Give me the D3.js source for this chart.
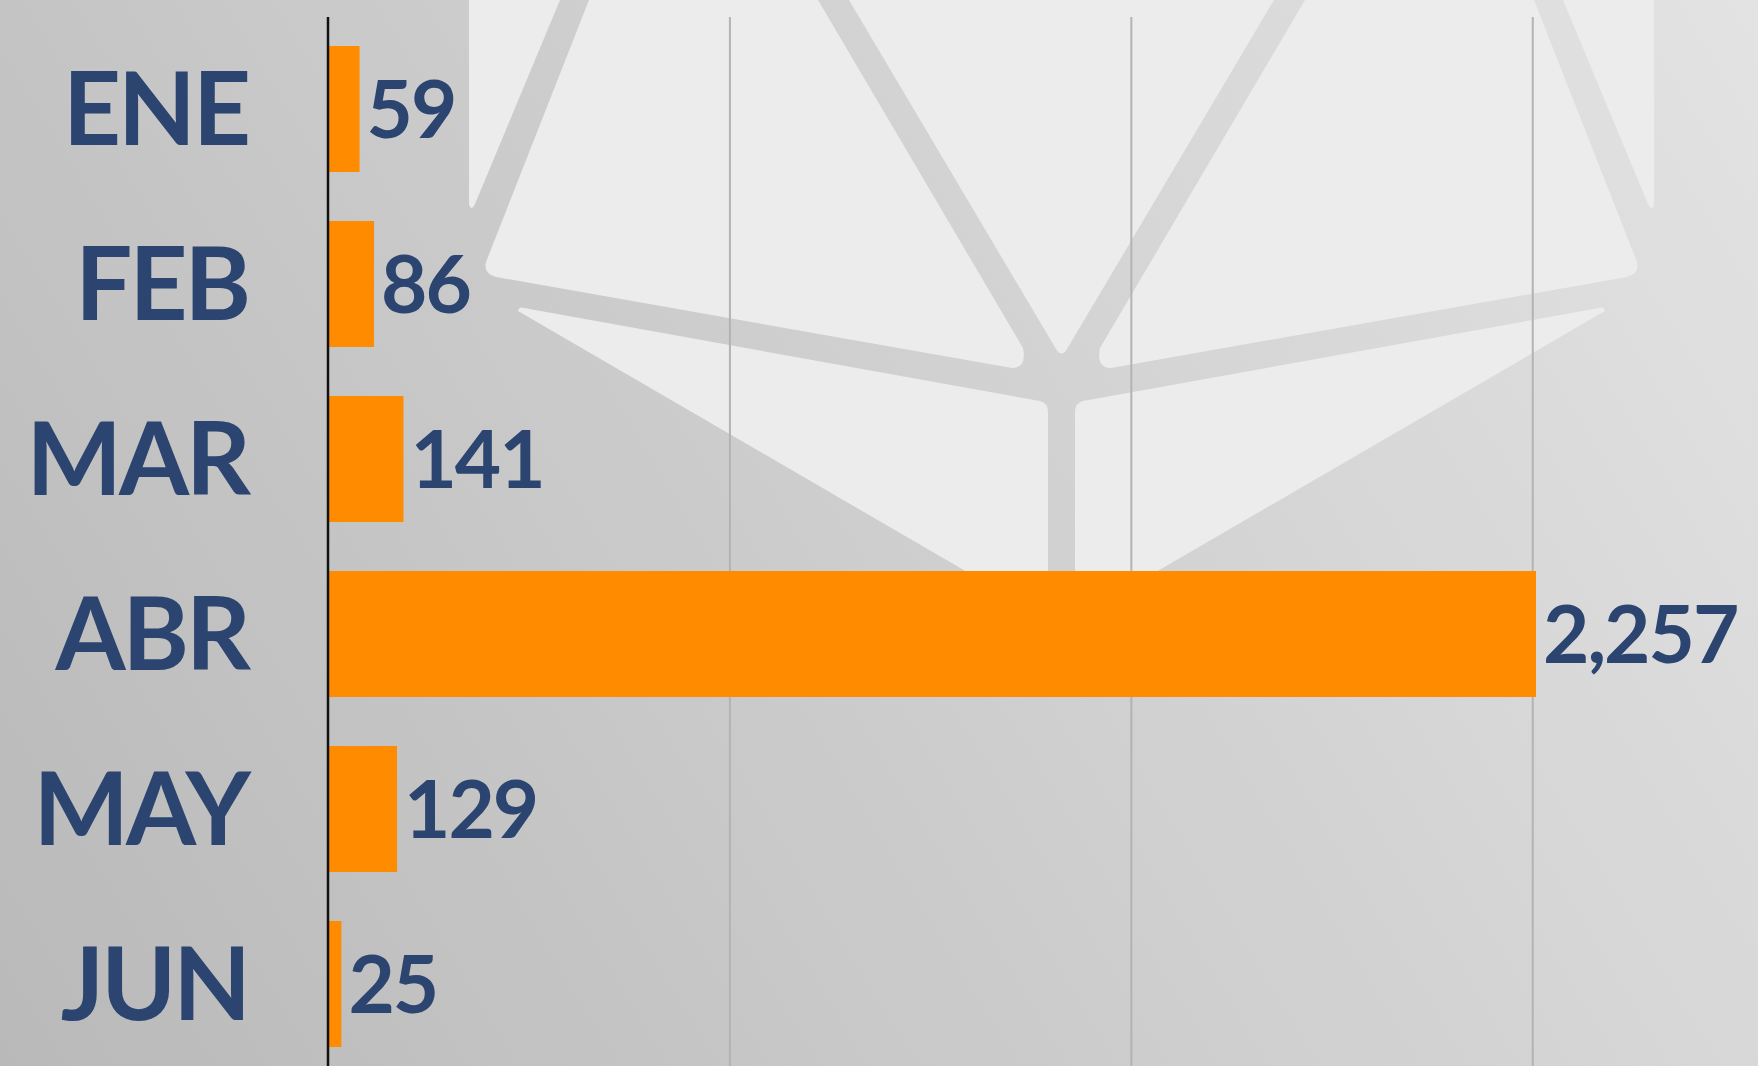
<!DOCTYPE html>
<html>
<head>
<meta charset="utf-8">
<script src="https://cdn.jsdelivr.net/npm/d3@7"></script>
<style>
  html, body { margin: 0; padding: 0; }
  body { width: 1758px; height: 1066px; overflow: hidden; }
</style>
</head>
<body>
<div id="chart"></div>
<script>
// data
const months = ["ENE", "FEB", "MAR", "ABR", "MAY", "JUN"];
const counts = [59, 86, 141, 2257, 129, 25];
const gridTicks = [750, 1500, 2250];

const data = months.map((m, i) => ({ month: m, value: counts[i] }));

const width = 1758;
const height = 1066;
const textColor = "#2b4570";

let svg = d3
  .select("#chart")
  .append("svg")
  .attr("width", width)
  .attr("height", height);

// background gradient
let defs = svg.append("defs");
let grad = defs
  .append("linearGradient")
  .attr("id", "bg")
  .attr("gradientUnits", "userSpaceOnUse")
  .attr("x1", 0)
  .attr("y1", height)
  .attr("x2", width)
  .attr("y2", 0);
grad.append("stop").attr("offset", "0%").attr("stop-color", "#b9b9b9");
grad.append("stop").attr("offset", "100%").attr("stop-color", "#e3e3e3");

svg
  .append("rect")
  .attr("width", width)
  .attr("height", height)
  .attr("fill", "url(#bg)");

// watermark logo (left half, mirrored for the right half)
const cx = 1061.5;
const logoLeft = [
  "M469,0 L560,0 L475,204 Q471,212 469,204 Z",
  "M589,0 L818,0 L1023,348 Q1027,368 1012,368 L496,277 Q483,273 486,262 Z",
  "M849,0 L" + (2 * cx - 849) + ",0 L1067,349 Q1061.5,358 1056,349 Z",
  "M518,311 Q519,306 524,308 L1040,401 Q1048,403 1048,412 L1048,619 Z",
];
let logo = svg.append("g").attr("fill", "#ececec");
logo.selectAll("path.l").data(logoLeft).enter().append("path").attr("class", "l").attr("d", (d) => d);
logo
  .append("g")
  .attr("transform", "translate(" + 2 * cx + ",0) scale(-1,1)")
  .selectAll("path")
  .data([logoLeft[0], logoLeft[1], logoLeft[3]])
  .enter()
  .append("path")
  .attr("d", (d) => d);

// scales
let x = d3.scaleLinear().domain([0, 2257]).range([328, 1536]);
let y = d3
  .scaleBand()
  .domain(months)
  .range([18, 1075])
  .paddingInner(0.28)
  .paddingOuter(0.16);

// gridlines
let grid = svg
  .append("g")
  .attr("transform", "translate(0,17)")
  .call(
    d3.axisBottom(x).tickValues(gridTicks).tickSize(height).tickFormat("")
  );
grid.select(".domain").remove();
grid.selectAll("line").attr("stroke", "#b3b3b3").attr("stroke-width", 2);

// bars
svg
  .selectAll("rect.bar")
  .data(data)
  .enter()
  .append("rect")
  .attr("class", "bar")
  .attr("x", x(0))
  .attr("y", (d) => y(d.month))
  .attr("width", (d) => x(d.value) - x(0))
  .attr("height", y.bandwidth())
  .attr("fill", "#ff8c00");

// value labels
svg
  .selectAll("text.val")
  .data(data)
  .enter()
  .append("text")
  .attr("class", "val")
  .attr("x", (d) => x(d.value) + 7)
  .attr("y", (d) => y(d.month) + y.bandwidth() / 2 + 29)
  .attr("fill", textColor)
  .style("font-family", "Lato, sans-serif")
  .style("font-weight", 700)
  .style("font-size", "80px")
  .style("letter-spacing", "-2px")
  .text((d) => d3.format(",")(d.value));

// month labels via axis
let yAxis = svg
  .append("g")
  .attr("transform", "translate(328,0)")
  .call(d3.axisLeft(y).tickSize(0).tickPadding(80));
yAxis.select(".domain").remove();
yAxis
  .selectAll("text")
  .attr("fill", textColor)
  .attr("dy", "0.36em")
  .style("font-family", "Lato, sans-serif")
  .style("font-weight", 700)
  .style("font-size", "101px")
  .style("letter-spacing", "-3px");

// baseline axis line
svg
  .append("line")
  .attr("x1", x(0))
  .attr("x2", x(0))
  .attr("y1", 17)
  .attr("y2", height)
  .attr("stroke", "#111")
  .attr("stroke-width", 2.5);
</script>
</body>
</html>
